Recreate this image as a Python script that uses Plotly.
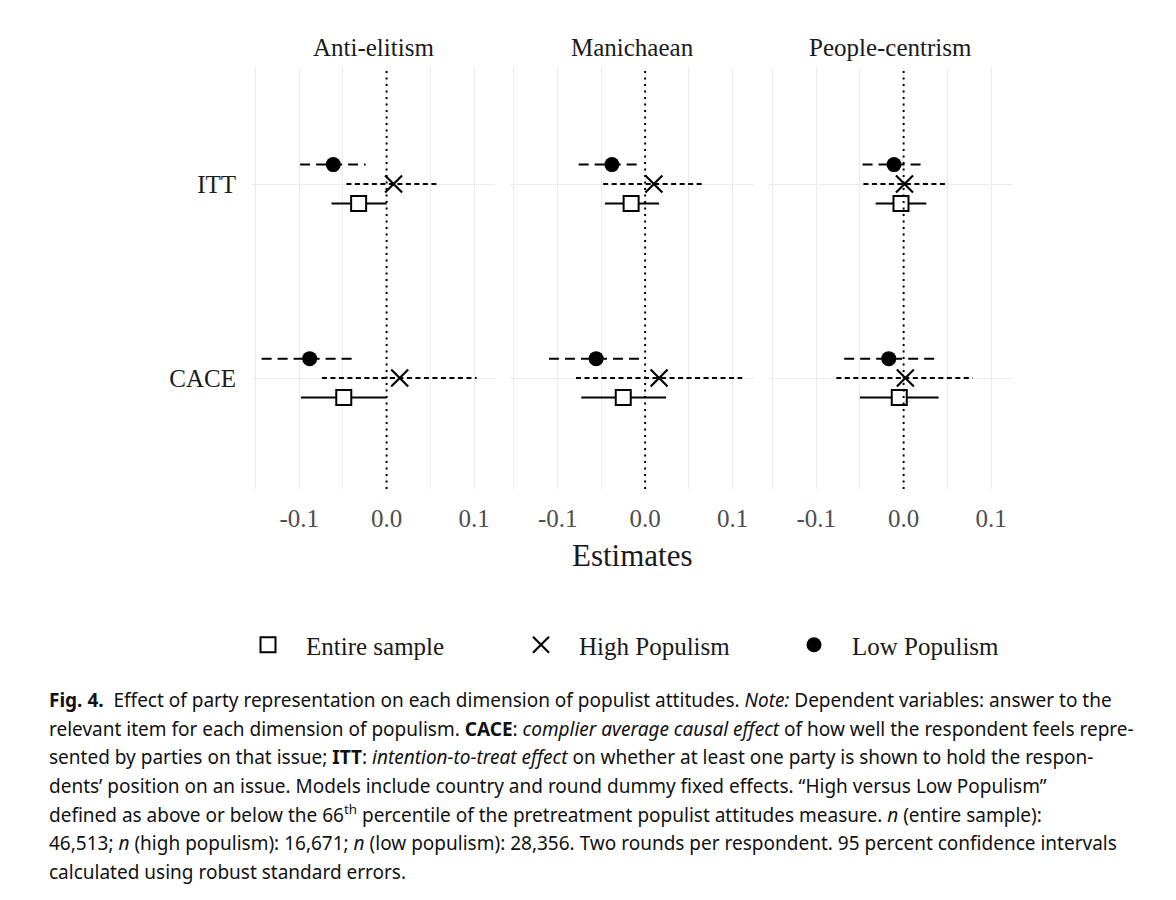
import plotly.graph_objects as go

# ---------------- data ----------------
dimensions = ["Anti-elitism", "Manichaean", "People-centrism"]
effects = ["ITT", "CACE"]
series_names = ["Entire sample", "High Populism", "Low Populism"]

# rows ordered: (Anti-elitism ITT, Anti-elitism CACE, Manichaean ITT, Manichaean CACE, People-centrism ITT, People-centrism CACE)
row_dimension = ["Anti-elitism", "Anti-elitism", "Manichaean", "Manichaean", "People-centrism", "People-centrism"]
row_effect = ["ITT", "CACE", "ITT", "CACE", "ITT", "CACE"]

entire_est = [-0.032, -0.049, -0.016, -0.025, -0.003, -0.005]
entire_lo = [-0.063, -0.098, -0.046, -0.073, -0.032, -0.050]
entire_hi = [0.000, 0.000, 0.016, 0.024, 0.026, 0.040]

high_est = [0.008, 0.015, 0.010, 0.016, 0.001, 0.002]
high_lo = [-0.046, -0.074, -0.048, -0.079, -0.046, -0.077]
high_hi = [0.061, 0.103, 0.067, 0.111, 0.048, 0.079]

low_est = [-0.061, -0.088, -0.038, -0.056, -0.011, -0.017]
low_lo = [-0.099, -0.143, -0.076, -0.110, -0.047, -0.068]
low_hi = [-0.024, -0.037, -0.008, -0.003, 0.021, 0.035]

x_tickvals = [-0.1, 0.0, 0.1]
x_ticktext = ["-0.1", "0.0", "0.1"]

# ---------------- styling ----------------
effect_pos = {"ITT": 2, "CACE": 1}
SERIF = "Liberation Serif, Times New Roman, serif"

series_cfg = [
    dict(name="Entire sample", est=entire_est, lo=entire_lo, hi=entire_hi, dodge=-0.1,
         dash="solid", marker=dict(symbol="square", size=15, color="white",
                                    line=dict(color="black", width=2))),
    dict(name="High Populism", est=high_est, lo=high_lo, hi=high_hi, dodge=0.0,
         dash="5px,3.5px", marker=dict(symbol="x-thin", size=17, color="black",
                                        line=dict(color="black", width=2.2))),
    dict(name="Low Populism", est=low_est, lo=low_lo, hi=low_hi, dodge=0.1,
         dash="10px,6px", marker=dict(symbol="circle", size=15, color="black",
                                       line=dict(color="black", width=0))),
]

axis_ids = ["", "2", "3"]
fig = go.Figure()

# interval lines
for cfg in series_cfg:
    for d_i, dim in enumerate(dimensions):
        xs, ys = [], []
        for r in range(len(row_dimension)):
            if row_dimension[r] != dim:
                continue
            yv = effect_pos[row_effect[r]] + cfg["dodge"]
            xs += [cfg["lo"][r], cfg["hi"][r], None]
            ys += [yv, yv, None]
        fig.add_trace(go.Scatter(
            x=xs, y=ys, mode="lines", xaxis="x" + axis_ids[d_i], yaxis="y" + axis_ids[d_i],
            line=dict(color="black", width=2, dash=cfg["dash"]),
            showlegend=False, hoverinfo="skip", legendgroup=cfg["name"]))

# points
for cfg in series_cfg:
    for d_i, dim in enumerate(dimensions):
        xs, ys = [], []
        for r in range(len(row_dimension)):
            if row_dimension[r] != dim:
                continue
            xs.append(cfg["est"][r])
            ys.append(effect_pos[row_effect[r]] + cfg["dodge"])
        fig.add_trace(go.Scatter(
            x=xs, y=ys, mode="markers", xaxis="x" + axis_ids[d_i], yaxis="y" + axis_ids[d_i],
            marker=cfg["marker"], name=cfg["name"], legendgroup=cfg["name"],
            showlegend=(d_i == 0)))

# ---------------- layout ----------------
# the page body adds an 8px margin, so the figure is 8px smaller than the window
W, H = 1160, 884
L, R, T, B = 244, 156, 60, 403
plot_h = H - T - B
plot_w = W - L - R


def py(pix):
    # vertical position in paper units, from a pixel row of the target picture
    return (489 - pix) / plot_h


def px(pix):
    return (pix - 252) / plot_w


domains = [[0.0, 0.3197], [0.3401, 0.6599], [0.6803, 1.0]]
x_range = [-0.154, 0.124]
y_range = [0.428, 2.598]

layout = dict(
    width=W, height=H, autosize=False,
    margin=dict(l=L, r=R, t=T, b=B, pad=0),
    paper_bgcolor="white", plot_bgcolor="white",
    font=dict(family=SERIF, color="#1a1a1a"),
    showlegend=True,
    legend=dict(orientation="h", x=px(230), xanchor="left", y=py(645), yanchor="middle",
                itemwidth=66, entrywidth=192, entrywidthmode="pixels",
                font=dict(family=SERIF, size=25, color="#1a1a1a"),
                traceorder="normal", bgcolor="rgba(0,0,0,0)"),
)

for i, aid in enumerate(axis_ids):
    layout["xaxis" + aid] = dict(
        domain=domains[i], range=x_range, anchor="y" + aid,
        tickvals=x_tickvals, ticktext=x_ticktext,
        showgrid=True, gridcolor="#ebebeb", gridwidth=1,
        minor=dict(dtick=0.05, tick0=0, showgrid=True, gridcolor="#ebebeb", gridwidth=1),
        zeroline=False, showline=False, ticks="",
        ticklabelstandoff=12,
        tickfont=dict(family=SERIF, size=25, color="#4d4d4d"),
        fixedrange=True)
    layout["yaxis" + aid] = dict(
        domain=[0, 1], range=y_range, anchor="x" + aid,
        tickvals=[effect_pos[e] for e in effects], ticktext=effects,
        showgrid=True, gridcolor="#ebebeb", gridwidth=1,
        zeroline=False, showline=False, ticks="",
        showticklabels=(i == 0), ticklabelstandoff=15,
        tickfont=dict(family=SERIF, size=25, color="#1a1a1a"),
        fixedrange=True)
    if aid:
        layout["yaxis" + aid]["matches"] = "y"

fig.update_layout(**layout)

# zero reference lines
for i, aid in enumerate(axis_ids):
    fig.add_shape(type="line", xref="x" + aid, yref="y" + aid + " domain",
                  x0=0, x1=0, y0=0, y1=1, layer="above",
                  line=dict(color="black", width=2, dash="2px,4.5px"))

# facet titles
for i, dim in enumerate(dimensions):
    fig.add_annotation(text=dim, xref="paper", yref="paper",
                       x=(domains[i][0] + domains[i][1]) / 2, y=py(47),
                       xanchor="center", yanchor="middle", showarrow=False,
                       font=dict(family=SERIF, size=25, color="#1a1a1a"))

# axis title
fig.add_annotation(text="Estimates", xref="paper", yref="paper", x=0.5, y=py(555),
                   xanchor="center", yanchor="middle", showarrow=False,
                   font=dict(family=SERIF, size=31, color="#1a1a1a"))

# caption
caption_lines = [
    "<b>Fig. 4.</b>  Effect of party representation on each dimension of populist attitudes. <i>Note:</i> Dependent variables: answer to the",
    "relevant item for each dimension of populism. <b>CACE</b>: <i>complier average causal effect</i> of how well the respondent feels repre-",
    "sented by parties on that issue; <b>ITT</b>: <i>intention-to-treat effect</i> on whether at least one party is shown to hold the respon-",
    "dents’ position on an issue. Models include country and round dummy fixed effects. “High versus Low Populism”",
    "defined as above or below the 66<sup>th</sup> percentile of the pretreatment populist attitudes measure. <i>n</i> (entire sample):",
    "46,513; <i>n</i> (high populism): 16,671; <i>n</i> (low populism): 28,356. Two rounds per respondent. 95 percent confidence intervals",
    "calculated using robust standard errors.",
]
for k, line in enumerate(caption_lines):
    fig.add_annotation(text=line, xref="paper", yref="paper", x=px(47), y=py(700 + 28.6 * k),
                       xanchor="left", yanchor="middle", showarrow=False, align="left",
                       font=dict(family="Noto Sans, Open Sans, sans-serif", size=19, color="#111111"))

fig.write_html("out.html")
